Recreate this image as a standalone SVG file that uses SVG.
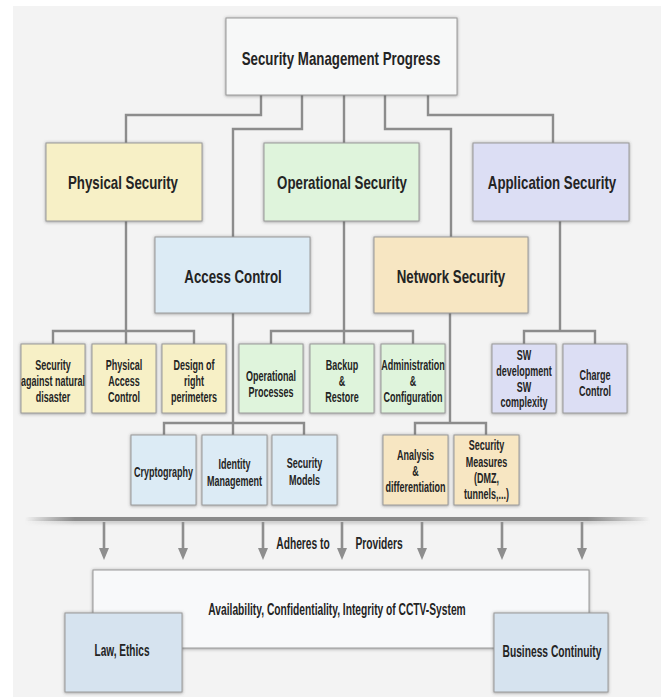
<svg xmlns="http://www.w3.org/2000/svg" width="661" height="697" viewBox="0 0 661 697">
  <defs>
    <style>
      .box { stroke: #9a9a9a; stroke-width: 1; filter: url(#shadow); }
      .wire { fill: none; stroke: #8c8c8c; stroke-width: 2.4; }
      .arrow { fill: none; stroke: #8e8e8e; stroke-width: 2.6; marker-end: url(#head); }
      .t { font-family: "Liberation Sans", Arial, sans-serif; font-weight: bold; fill: #242424; text-anchor: middle; }
      .big { font-size: 19px; }
      .small { font-size: 15px; }
      .mid { font-size: 16px; }
      .top { fill: #f7f8f8; }
      .yellow { fill: #f7f0c6; }
      .green { fill: #dff4dc; }
      .lilac { fill: #dcdef4; }
      .blue { fill: #dcebf5; }
      .peach { fill: #f7e6c2; }
      .steel { fill: #d6e3ef; }
      .pale { fill: #f8f9fa; }
    </style>
    <filter id="shadow" x="-10%" y="-15%" width="120%" height="135%">
      <feDropShadow dx="0" dy="0.5" stdDeviation="1.6" flood-color="#3c3c3c" flood-opacity="0.55"/>
    </filter>
    <filter id="soft" x="-5%" y="-200%" width="110%" height="500%">
      <feGaussianBlur stdDeviation="1.8"/>
    </filter>
    <linearGradient id="barFade" x1="0" y1="0" x2="1" y2="0">
      <stop offset="0" stop-color="#8a8a8a" stop-opacity="0"/>
      <stop offset="0.08" stop-color="#8a8a8a" stop-opacity="1"/>
      <stop offset="0.9" stop-color="#8a8a8a" stop-opacity="1"/>
      <stop offset="1" stop-color="#8a8a8a" stop-opacity="0"/>
    </linearGradient>
    <marker id="head" viewBox="0 0 12 10" refX="0" refY="5" markerWidth="12" markerHeight="10" markerUnits="userSpaceOnUse" orient="auto">
      <path d="M0,0 L12,5 L0,10 z" fill="#8e8e8e"/>
    </marker>
  </defs>

  <!-- page -->
  <rect x="0" y="0" width="661" height="697" fill="#ffffff"/>
  <rect x="13" y="6" width="648" height="691" fill="#f3f3f3"/>

  <!-- tree connectors -->
  <g id="connectors">
    <path class="wire" d="M261 95V115H126V143"/>
    <path class="wire" d="M302 95V129H233V237"/>
    <path class="wire" d="M344 95V143"/>
    <path class="wire" d="M385 95V129H451V237"/>
    <path class="wire" d="M428 95V115H553V143"/>
    <path class="wire" d="M126 221V344M53 344V331H194V344"/>
    <path class="wire" d="M344 221V344M271 344V331H413V344"/>
    <path class="wire" d="M560 221V331M524 344V331H595V344"/>
    <path class="wire" d="M233 313V435M164 435V423H304V435"/>
    <path class="wire" d="M450 313V423M415 435V423H486V435"/>
  </g>

  <!-- root -->
  <g id="security-management-progress">
    <rect class="box top" x="226" y="18" width="231" height="77"/>
    <text class="t big" transform="translate(341 0) scale(.7 1)" y="65">Security Management Progress</text>
  </g>

  <!-- second row -->
  <g id="physical-security">
    <rect class="box yellow" x="46" y="143" width="156" height="78"/>
    <text class="t big" transform="translate(123 0) scale(.7 1)" y="189">Physical Security</text>
  </g>
  <g id="operational-security">
    <rect class="box green" x="264" y="143" width="155" height="78"/>
    <text class="t big" transform="translate(342 0) scale(.7 1)" y="189">Operational Security</text>
  </g>
  <g id="application-security">
    <rect class="box lilac" x="473" y="143" width="156" height="78"/>
    <text class="t big" transform="translate(552 0) scale(.7 1)" y="189">Application Security</text>
  </g>
  <g id="access-control">
    <rect class="box blue" x="155" y="237" width="155" height="76"/>
    <text class="t big" transform="translate(233 0) scale(.7 1)" y="283">Access Control</text>
  </g>
  <g id="network-security">
    <rect class="box peach" x="374" y="237" width="154" height="76"/>
    <text class="t big" transform="translate(451 0) scale(.7 1)" y="283">Network Security</text>
  </g>

  <!-- physical security topics -->
  <g id="natural-disaster">
    <rect class="box yellow" x="21" y="344" width="64" height="69"/>
    <text class="t small" transform="translate(53 0) scale(.6 1)" y="370"><tspan x="0">Security</tspan><tspan x="0" dy="16">against natural</tspan><tspan x="0" dy="16">disaster</tspan></text>
  </g>
  <g id="physical-access-control">
    <rect class="box yellow" x="92" y="344" width="64" height="69"/>
    <text class="t small" transform="translate(124 0) scale(.6 1)" y="370"><tspan x="0">Physical</tspan><tspan x="0" dy="16">Access</tspan><tspan x="0" dy="16">Control</tspan></text>
  </g>
  <g id="right-perimeters">
    <rect class="box yellow" x="162" y="344" width="64" height="69"/>
    <text class="t small" transform="translate(194 0) scale(.6 1)" y="370"><tspan x="0">Design of</tspan><tspan x="0" dy="16">right</tspan><tspan x="0" dy="16">perimeters</tspan></text>
  </g>

  <!-- operational security topics -->
  <g id="operational-processes">
    <rect class="box green" x="239" y="344" width="64" height="69"/>
    <text class="t small" transform="translate(271 0) scale(.6 1)" y="381"><tspan x="0">Operational</tspan><tspan x="0" dy="16">Processes</tspan></text>
  </g>
  <g id="backup-restore">
    <rect class="box green" x="310" y="344" width="64" height="69"/>
    <text class="t small" transform="translate(342 0) scale(.6 1)" y="370"><tspan x="0">Backup</tspan><tspan x="0" dy="16">&amp;</tspan><tspan x="0" dy="16">Restore</tspan></text>
  </g>
  <g id="administration-configuration">
    <rect class="box green" x="381" y="344" width="64" height="69"/>
    <text class="t small" transform="translate(413 0) scale(.6 1)" y="370"><tspan x="0">Administration</tspan><tspan x="0" dy="16">&amp;</tspan><tspan x="0" dy="16">Configuration</tspan></text>
  </g>

  <!-- application security topics -->
  <g id="sw-development">
    <rect class="box lilac" x="492" y="344" width="64" height="69"/>
    <text class="t small" transform="translate(524 0) scale(.6 1)" y="360"><tspan x="0">SW</tspan><tspan x="0" dy="16">development</tspan><tspan x="0" dy="16">SW</tspan><tspan x="0" dy="15.5">complexity</tspan></text>
  </g>
  <g id="charge-control">
    <rect class="box lilac" x="563" y="344" width="64" height="69"/>
    <text class="t small" transform="translate(595 0) scale(.6 1)" y="380"><tspan x="0">Charge</tspan><tspan x="0" dy="16">Control</tspan></text>
  </g>

  <!-- access control topics -->
  <g id="cryptography">
    <rect class="box blue" x="131" y="435" width="65" height="70"/>
    <text class="t small" transform="translate(163.5 0) scale(.6 1)" y="477">Cryptography</text>
  </g>
  <g id="identity-management">
    <rect class="box blue" x="202" y="435" width="65" height="70"/>
    <text class="t small" transform="translate(234.5 0) scale(.6 1)" y="469"><tspan x="0">Identity</tspan><tspan x="0" dy="17">Management</tspan></text>
  </g>
  <g id="security-models">
    <rect class="box blue" x="272" y="435" width="65" height="70"/>
    <text class="t small" transform="translate(304.5 0) scale(.6 1)" y="468"><tspan x="0">Security</tspan><tspan x="0" dy="17">Models</tspan></text>
  </g>

  <!-- network security topics -->
  <g id="analysis-differentiation">
    <rect class="box peach" x="383" y="435" width="65" height="70"/>
    <text class="t small" transform="translate(415.5 0) scale(.6 1)" y="460"><tspan x="0">Analysis</tspan><tspan x="0" dy="16">&amp;</tspan><tspan x="0" dy="16">differentiation</tspan></text>
  </g>
  <g id="security-measures">
    <rect class="box peach" x="454" y="435" width="65" height="70"/>
    <text class="t small" transform="translate(486.5 0) scale(.6 1)" y="450"><tspan x="0">Security</tspan><tspan x="0" dy="16.7">Measures</tspan><tspan x="0" dy="16.7">(DMZ,</tspan><tspan x="0" dy="16">tunnels,...)</tspan></text>
  </g>

  <!-- divider and downward arrows -->
  <g id="divider">
    <rect x="25" y="519" width="625" height="5" fill="url(#barFade)" opacity="0.35" filter="url(#soft)"/>
    <rect x="25" y="517" width="625" height="4" fill="url(#barFade)"/>
  </g>
  <g id="flow-arrows">
    <path class="arrow" d="M104 522V548"/>
    <path class="arrow" d="M183 522V548"/>
    <path class="arrow" d="M263 522V548"/>
    <path class="arrow" d="M342 522V548"/>
    <path class="arrow" d="M422 522V548"/>
    <path class="arrow" d="M502 522V548"/>
    <path class="arrow" d="M582 522V548"/>
  </g>
  <g id="arrow-labels">
    <text class="t mid" transform="translate(303 0) scale(.64 1)" y="549">Adheres to</text>
    <text class="t mid" transform="translate(379 0) scale(.64 1)" y="549">Providers</text>
  </g>

  <!-- goals -->
  <g id="cctv-goals">
    <rect class="box pale" x="93" y="570" width="496" height="78"/>
    <text class="t mid" transform="translate(337 0) scale(.64 1)" y="615">Availability, Confidentiality, Integrity of CCTV-System</text>
  </g>
  <g id="law-ethics">
    <rect class="box steel" x="65" y="613" width="117" height="79"/>
    <text class="t mid" transform="translate(122 0) scale(.63 1)" y="656">Law, Ethics</text>
  </g>
  <g id="business-continuity">
    <rect class="box steel" x="494" y="613" width="114" height="79"/>
    <text class="t mid" transform="translate(552 0) scale(.64 1)" y="657">Business Continuity</text>
  </g>
</svg>
